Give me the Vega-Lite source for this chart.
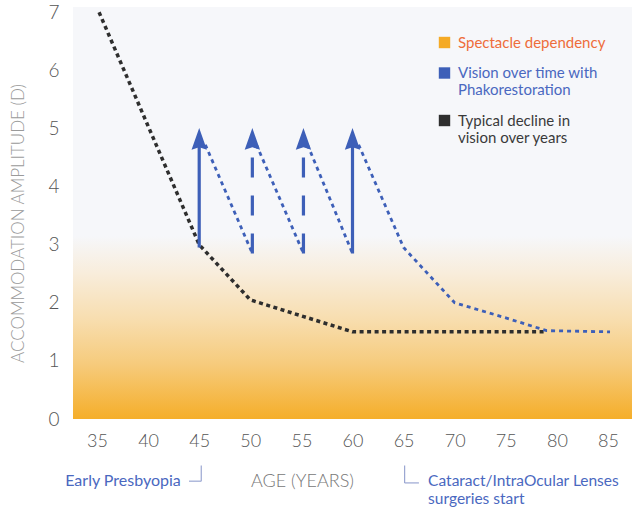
{
  "$schema": "https://vega.github.io/schema/vega-lite/v6.json",
  "width": 559,
  "height": 412,
  "autosize": {"type": "none"},
  "padding": {"left": 73, "top": 7, "right": 0, "bottom": 91},
  "background": "#ffffff",
  "config": {
    "view": {"stroke": null, "fill": "#f6f7fa"},
    "font": "Lato",
    "axis": {"labelFont": "Lato", "titleFont": "Lato"}
  },
  "datasets": {
    "band": [{"x": 32.65, "x2": 87.35, "y": 0, "y2": 3.15}],
    "decline": [
      {"series": "Typical decline in vision over years", "seg": "k", "age": 35.2, "amp": 7.0},
      {"series": "Typical decline in vision over years", "seg": "k", "age": 45, "amp": 3.0},
      {"series": "Typical decline in vision over years", "seg": "k", "age": 50, "amp": 2.05},
      {"series": "Typical decline in vision over years", "seg": "k", "age": 60, "amp": 1.5},
      {"series": "Typical decline in vision over years", "seg": "k", "age": 79, "amp": 1.5}
    ],
    "phako": [
      {"series": "Vision over time with Phakorestoration", "seg": "b1", "age": 45.6, "amp": 4.72},
      {"series": "Vision over time with Phakorestoration", "seg": "b1", "age": 50.2, "amp": 2.85},
      {"series": "Vision over time with Phakorestoration", "seg": "b2", "age": 50.6, "amp": 4.72},
      {"series": "Vision over time with Phakorestoration", "seg": "b2", "age": 55.2, "amp": 2.85},
      {"series": "Vision over time with Phakorestoration", "seg": "b3", "age": 55.6, "amp": 4.72},
      {"series": "Vision over time with Phakorestoration", "seg": "b3", "age": 60, "amp": 2.85},
      {"series": "Vision over time with Phakorestoration", "seg": "b4", "age": 60.6, "amp": 4.72},
      {"series": "Vision over time with Phakorestoration", "seg": "b4", "age": 65, "amp": 2.95},
      {"series": "Vision over time with Phakorestoration", "seg": "b4", "age": 70, "amp": 2.0},
      {"series": "Vision over time with Phakorestoration", "seg": "b4", "age": 75, "amp": 1.74},
      {"series": "Vision over time with Phakorestoration", "seg": "b4", "age": 79, "amp": 1.52},
      {"series": "Vision over time with Phakorestoration", "seg": "b4", "age": 85.2, "amp": 1.5}
    ],
    "arrows": [
      {"age": 45, "from": 2.95, "to": 4.7, "style": "solid"},
      {"age": 50.2, "from": 2.85, "to": 4.7, "style": "dashed"},
      {"age": 55.2, "from": 2.85, "to": 4.7, "style": "dashed"},
      {"age": 60, "from": 2.85, "to": 4.7, "style": "solid"}
    ],
    "heads": [
      {"age": 45, "amp": 4.82},
      {"age": 50.2, "amp": 4.82},
      {"age": 55.2, "amp": 4.82},
      {"age": 60, "amp": 4.82}
    ],
    "notesLeft": [{"text": "Early Presbyopia", "age": 43.2, "amp": -1.07}],
    "notesRight": [
      {"text": "Cataract/IntraOcular Lenses|surgeries start", "age": 67.4, "amp": -0.94}
    ],
    "brackets": [
      {"x": 44.0, "x2": 45.2, "y": -1.07, "y2": -1.07},
      {"x": 45.2, "x2": 45.2, "y": -1.07, "y2": -0.8},
      {"x": 65.1, "x2": 65.1, "y": -0.8, "y2": -1.1},
      {"x": 65.1, "x2": 66.5, "y": -1.1, "y2": -1.1}
    ]
  },
  "layer": [
    {
      "data": {"name": "band"},
      "mark": {
        "type": "rect",
        "fill": {
          "gradient": "linear",
          "x1": 0, "y1": 0, "x2": 0, "y2": 1,
          "stops": [
            {"offset": 0, "color": "#f6f7fa"},
            {"offset": 0.2, "color": "#f8eddc"},
            {"offset": 0.45, "color": "#f8deb0"},
            {"offset": 0.7, "color": "#f6cb7c"},
            {"offset": 1, "color": "#f5ae2a"}
          ]
        }
      },
      "encoding": {
        "x": {"field": "x", "type": "quantitative", "scale": {"domain": [32.65, 87.35], "nice": false, "zero": false},
          "axis": {"values": [35, 40, 45, 50, 55, 60, 65, 70, 75, 80, 85], "domain": false, "ticks": false, "grid": false,
            "labelFontSize": 18, "labelColor": "#555555", "labelPadding": 13, "labelFontWeight": 300,
            "title": "AGE (YEARS)", "titleFontSize": 18, "titleColor": "#777777", "titleFontWeight": 300,
            "titleX": 229, "titleY": 62, "titleBaseline": "middle", "titleAlign": "center"}},
        "x2": {"field": "x2"},
        "y": {"field": "y", "type": "quantitative", "scale": {"domain": [0, 7.09], "nice": false, "zero": false},
          "axis": {"values": [0, 1, 2, 3, 4, 5, 6, 7], "format": "d", "domain": false, "ticks": false, "grid": false,
            "labelFontSize": 19, "labelColor": "#555555", "labelPadding": 14, "labelFontWeight": 300,
            "title": "ACCOMMODATION AMPLITUDE (D)", "titleFontSize": 17, "titleColor": "#9a9a9a", "titleFontWeight": 300,
            "titleX": -55, "titleY": 216, "titleAngle": -90, "titleAlign": "center", "titleBaseline": "middle"}},
        "y2": {"field": "y2"}
      }
    },
    {
      "data": {"name": "decline"},
      "mark": {"type": "line", "strokeWidth": 3.5, "strokeDash": [4, 3.5], "strokeCap": "butt"},
      "encoding": {
        "x": {"field": "age", "type": "quantitative"},
        "y": {"field": "amp", "type": "quantitative"},
        "detail": {"field": "seg"},
        "color": {
          "field": "series", "type": "nominal",
          "scale": {
            "domain": ["Spectacle dependency", "Vision over time with Phakorestoration", "Typical decline in vision over years"],
            "range": ["#f5aa25", "#3d5fb8", "#2e2e2e"]
          },
          "legend": {
            "orient": "none", "legendX": 364, "legendY": 28, "title": null,
            "symbolType": "square", "symbolSize": 130, "symbolStrokeWidth": 0,
            "labelFont": "Lato", "labelFontSize": 15, "labelOffset": 6, "rowPadding": 14.5,
            "labelExpr": "datum.label == 'Vision over time with Phakorestoration' ? ['Vision over time with', 'Phakorestoration'] : datum.label == 'Typical decline in vision over years' ? ['Typical decline in', 'vision over years'] : datum.label",
            "encode": {
              "symbols": {"update": {"fill": {"scale": "color", "field": "value"}, "opacity": {"value": 1}, "strokeDash": {"value": []}, "strokeWidth": {"value": 0}}},
              "labels": {"update": {"fill": {"signal": "datum.value === 'Spectacle dependency' ? '#ee6d3a' : datum.value === 'Typical decline in vision over years' ? '#3a3a3a' : '#4a68c0'"}}}
            }
          }
        }
      }
    },
    {
      "data": {"name": "phako"},
      "mark": {"type": "line", "strokeWidth": 2.8, "strokeDash": [4, 4], "strokeCap": "butt"},
      "encoding": {
        "x": {"field": "age", "type": "quantitative"},
        "y": {"field": "amp", "type": "quantitative"},
        "detail": {"field": "seg"},
        "color": {"field": "series", "type": "nominal"}
      }
    },
    {
      "data": {"name": "arrows"},
      "mark": {"type": "rule", "color": "#3d5fb8", "strokeWidth": 3.2},
      "encoding": {
        "x": {"field": "age", "type": "quantitative"},
        "y": {"field": "from", "type": "quantitative"},
        "y2": {"field": "to"},
        "strokeDash": {"field": "style", "type": "nominal", "scale": {"domain": ["solid", "dashed"], "range": [[1, 0], [20, 18]]}, "legend": null}
      }
    },
    {
      "data": {"name": "heads"},
      "mark": {"type": "point", "shape": "M-0.7,1 L0,-1 L0.7,1 L0,0.75 Z", "filled": true, "color": "#3d5fb8", "opacity": 1, "size": 480, "strokeWidth": 0},
      "encoding": {
        "x": {"field": "age", "type": "quantitative"},
        "y": {"field": "amp", "type": "quantitative"}
      }
    },
    {
      "data": {"name": "brackets"},
      "mark": {"type": "rule", "color": "#9aa6d2", "strokeWidth": 1.2},
      "encoding": {
        "x": {"field": "x", "type": "quantitative"},
        "x2": {"field": "x2"},
        "y": {"field": "y", "type": "quantitative"},
        "y2": {"field": "y2"}
      }
    },
    {
      "data": {"name": "notesLeft"},
      "mark": {"type": "text", "align": "right", "baseline": "middle", "font": "Lato", "fontSize": 16, "color": "#4a68c0"},
      "encoding": {
        "x": {"field": "age", "type": "quantitative"},
        "y": {"field": "amp", "type": "quantitative"},
        "text": {"field": "text"}
      }
    },
    {
      "data": {"name": "notesRight"},
      "mark": {"type": "text", "align": "left", "baseline": "top", "font": "Lato", "fontSize": 15.5, "lineHeight": 18.5, "lineBreak": "|", "color": "#4a68c0"},
      "encoding": {
        "x": {"field": "age", "type": "quantitative"},
        "y": {"field": "amp", "type": "quantitative"},
        "text": {"field": "text"}
      }
    }
  ]
}
